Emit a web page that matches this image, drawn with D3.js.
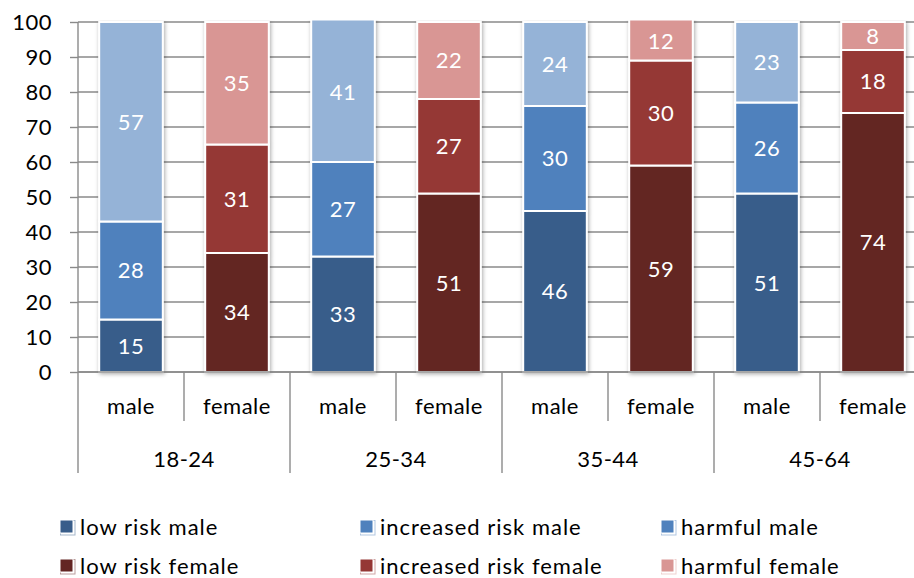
<!DOCTYPE html>
<html>
<head>
<meta charset="utf-8">
<script src="https://cdn.jsdelivr.net/npm/d3@7"></script>
<style>
  html, body { margin: 0; padding: 0; background: #fff; }
  svg { display: block; font-family: Lato, "Open Sans", sans-serif; }
</style>
</head>
<body>
<svg id="chart" width="914" height="578"></svg>
<script>
// Drinking risk levels (%) by age group and sex
const ageGroups = ["18-24", "25-34", "35-44", "45-64"];
const sexes = ["male", "female"];

const lowRiskMale          = [15, 33, 46, 51];
const increasedRiskMale    = [28, 27, 30, 26];
const harmfulMale          = [57, 41, 24, 23];
const lowRiskFemale        = [34, 51, 59, 74];
const increasedRiskFemale  = [31, 27, 30, 18];
const harmfulFemale        = [35, 22, 12, 8];

const yTickValues = [0, 10, 20, 30, 40, 50, 60, 70, 80, 90, 100];

const seriesNames = {
  male:   ["low risk male", "increased risk male", "harmful male"],
  female: ["low risk female", "increased risk female", "harmful female"]
};
const seriesValues = {
  male:   [lowRiskMale, increasedRiskMale, harmfulMale],
  female: [lowRiskFemale, increasedRiskFemale, harmfulFemale]
};
const colors = {
  "low risk male": "#385d8a",
  "increased risk male": "#4f81bd",
  "harmful male": "#95b3d7",
  "low risk female": "#632523",
  "increased risk female": "#953735",
  "harmful female": "#d99694"
};
// legend swatches (the harmful-male key uses the mid blue)
const legendColors = Object.assign({}, colors, { "harmful male": "#4f81bd" });

const svg = d3.select("#chart");
const plotLeft = 78, plotRight = 926, plotTop = 22, plotBottom = 372;
const gridColor = "#8a8a8a";

// one bar per (age group, sex)
const bars = [];
ageGroups.forEach((g, gi) => {
  sexes.forEach(s => {
    let y0 = 0;
    const segs = seriesNames[s].map((name, si) => {
      const v = seriesValues[s][si][gi];
      const seg = { name, value: v, y0, y1: y0 + v };
      y0 += v;
      return seg;
    });
    bars.push({ key: g + "|" + s, group: g, sex: s, segs });
  });
});

const x = d3.scaleBand()
  .domain(bars.map(d => d.key))
  .range([plotLeft, plotRight])
  .paddingInner(0.4)
  .paddingOuter(0.2);

const y = d3.scaleLinear().domain([0, 100]).range([plotBottom, plotTop]);

// soft shadow around the bars
const defs = svg.append("defs");
const f = defs.append("filter").attr("id", "glow")
  .attr("x", "-20%").attr("y", "-10%").attr("width", "140%").attr("height", "120%");
f.append("feGaussianBlur").attr("in", "SourceAlpha").attr("stdDeviation", 2.2).attr("result", "b");
f.append("feOffset").attr("in", "b").attr("dx", 0.5).attr("dy", 0.5).attr("result", "o");
f.append("feComponentTransfer").attr("in", "o").attr("result", "s")
  .append("feFuncA").attr("type", "linear").attr("slope", 0.35);
const fm = f.append("feMerge");
fm.append("feMergeNode").attr("in", "s");
fm.append("feMergeNode").attr("in", "SourceGraphic");

defs.append("clipPath").attr("id", "plotClip")
  .append("rect").attr("x", 0).attr("y", y(100) - 1.5)
  .attr("width", 1000).attr("height", plotBottom - y(100) + 10);

// horizontal gridlines + outside ticks
svg.append("g")
  .selectAll("line")
  .data(yTickValues)
  .join("line")
  .attr("x1", plotLeft).attr("x2", plotRight)
  .attr("y1", d => y(d)).attr("y2", d => y(d))
  .attr("stroke", gridColor).attr("stroke-width", 1.4);

const yAxis = d3.axisLeft(y).tickValues(yTickValues).tickSize(8).tickPadding(18);
const ya = svg.append("g").attr("transform", `translate(${plotLeft},0)`).call(yAxis);
ya.select(".domain").remove();
ya.selectAll(".tick line").attr("stroke", gridColor).attr("stroke-width", 1.4);
ya.selectAll(".tick text").attr("font-size", 22).attr("fill", "#000")
  .attr("font-family", "Lato, sans-serif").attr("letter-spacing", 0.5);

// bars
const barG = svg.append("g").attr("clip-path", "url(#plotClip)");
const bg = barG.selectAll("g.bar").data(bars).join("g").attr("class", "bar")
  .attr("filter", "url(#glow)");
bg.selectAll("rect").data(d => d.segs.map(s => ({ ...s, key: d.key })))
  .join("rect")
  .attr("x", d => x(d.key))
  .attr("width", x.bandwidth())
  .attr("y", d => y(d.y1))
  .attr("height", d => y(d.y0) - y(d.y1))
  .attr("fill", d => colors[d.name])
  .attr("stroke", "#fff").attr("stroke-width", 2);

// value labels
barG.selectAll("g.lab").data(bars).join("g").attr("class", "lab")
  .selectAll("text").data(d => d.segs.map(s => ({ ...s, key: d.key })))
  .join("text")
  .attr("x", d => x(d.key) + x.bandwidth() / 2)
  .attr("y", d => (y(Math.min(d.y1, 100)) + y(d.y0)) / 2)
  .attr("dy", "0.36em")
  .attr("text-anchor", "middle")
  .attr("fill", "#fff")
  .attr("font-size", 22)
  .attr("letter-spacing", 0.5)
  .text(d => d.value);

// axis lines
svg.append("line").attr("x1", plotLeft).attr("x2", plotLeft).attr("y1", plotTop).attr("y2", 473)
  .attr("stroke", gridColor).attr("stroke-width", 1.4);
svg.append("line").attr("x1", plotLeft).attr("x2", plotRight).attr("y1", plotBottom).attr("y2", plotBottom)
  .attr("stroke", gridColor).attr("stroke-width", 1.4);

// two-level category axis
const step = x.step();
bars.forEach((d, i) => {
  const bx = plotLeft + i * step;
  if (i > 0) {
    const isGroupEdge = i % 2 === 0;
    svg.append("line").attr("x1", bx).attr("x2", bx)
      .attr("y1", plotBottom).attr("y2", isGroupEdge ? 473 : 421)
      .attr("stroke", gridColor).attr("stroke-width", 1.4);
  }
  svg.append("text")
    .attr("x", x(d.key) + x.bandwidth() / 2)
    .attr("y", 406).attr("dy", "0.36em")
    .attr("text-anchor", "middle").attr("font-size", 22).attr("fill", "#000")
    .attr("letter-spacing", 0.5)
    .text(d.sex);
});
ageGroups.forEach((g, gi) => {
  svg.append("text")
    .attr("x", plotLeft + (gi * 2 + 1) * step)
    .attr("y", 459).attr("dy", "0.36em")
    .attr("text-anchor", "middle").attr("font-size", 22).attr("fill", "#000")
    .attr("letter-spacing", 0.5)
    .text(g);
});

// legend
const legendRows = [seriesNames.male, seriesNames.female];
const legendX = [61, 361, 662];
const legendY = [527, 566];
legendRows.forEach((row, ri) => {
  row.forEach((name, ci) => {
    const g = svg.append("g").attr("transform", `translate(${legendX[ci]},${legendY[ri]})`);
    g.append("rect").attr("x", -0.5).attr("y", -6.5).attr("width", 14.5).attr("height", 14.5)
      .attr("fill", "none").attr("stroke", legendColors[name]).attr("stroke-opacity", 0.45)
      .attr("stroke-width", 1);
    g.append("rect").attr("x", -1).attr("y", -7).attr("width", 13).attr("height", 13)
      .attr("fill", legendColors[name]).attr("stroke", "#fff").attr("stroke-width", 1);
    g.append("text").attr("x", 19).attr("y", 0).attr("dy", "0.36em")
      .attr("font-size", 22).attr("fill", "#000")
      .attr("letter-spacing", 1)
      .text(name);
  });
});
</script>
</body>
</html>
